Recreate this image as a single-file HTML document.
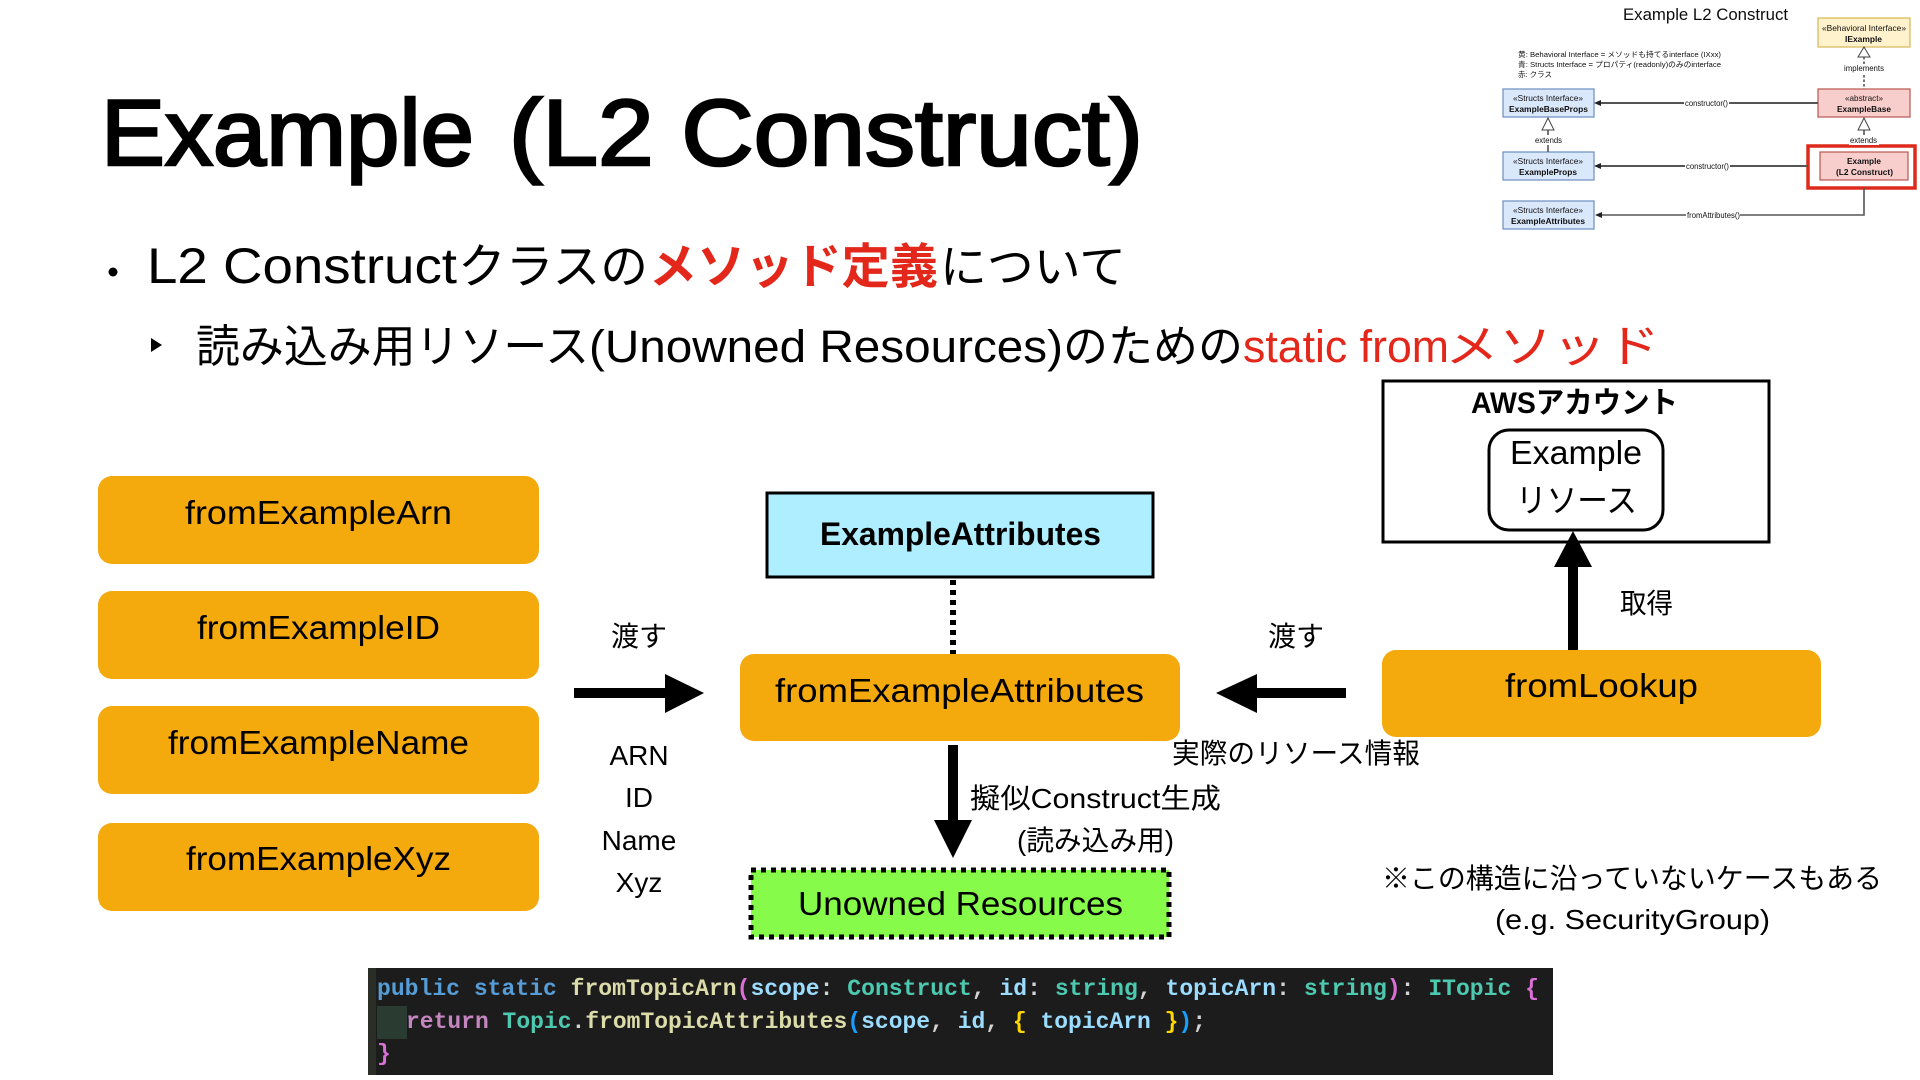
<!DOCTYPE html>
<html lang="ja">
<head>
<meta charset="utf-8">
<title>Example (L2 Construct)</title>
<style>
html,body{margin:0;padding:0;background:#fff;width:1920px;height:1080px;overflow:hidden}
svg{display:block}
text{font-family:"Liberation Sans","Noto Sans CJK JP",sans-serif;fill:#000}
.m{text-anchor:middle}
.code text{font-family:"Liberation Mono","DejaVu Sans Mono",monospace;font-size:23px;fill:#d4d4d4}
.mini text{font-size:8.5px;fill:#111}
.mini .t{font-weight:bold;font-size:8.5px}
</style>
</head>
<body>
<svg width="1920" height="1080" viewBox="0 0 1920 1080" xmlns="http://www.w3.org/2000/svg">
<defs><filter id="b" x="-5%" y="-5%" width="110%" height="110%"><feGaussianBlur stdDeviation="0.35"/></filter></defs>

<!-- Title and bullets -->
<text x="101" y="165" font-size="94" style="stroke:#000;stroke-width:2.6px" textLength="373" lengthAdjust="spacingAndGlyphs">Example</text>
<text x="509" y="165" font-size="94" style="stroke:#000;stroke-width:2.6px" textLength="634" lengthAdjust="spacingAndGlyphs">(L2 Construct)</text>
<circle cx="113" cy="272" r="4.5" fill="#000"/>
<text x="147" y="283" font-size="50" textLength="310" lengthAdjust="spacingAndGlyphs">L2 Construct</text>
<text x="458" y="283" font-size="48" textLength="190" lengthAdjust="spacingAndGlyphs">クラスの</text>
<text x="649" y="283" font-size="48" font-weight="bold" style="fill:#e3281b" textLength="289" lengthAdjust="spacingAndGlyphs">メソッド定義</text>
<text x="940" y="283" font-size="46" textLength="186" lengthAdjust="spacingAndGlyphs">について</text>
<polygon points="151,338 162,345 151,352" fill="#000"/>
<text x="196" y="362" font-size="45" textLength="393" lengthAdjust="spacingAndGlyphs">読み込み用リソース</text>
<text x="589" y="362" font-size="45" textLength="474" lengthAdjust="spacingAndGlyphs">(Unowned Resources)</text>
<text x="1063" y="362" font-size="45" textLength="180" lengthAdjust="spacingAndGlyphs">のための</text>
<text x="1243" y="362" font-size="45" style="fill:#e3281b" textLength="206" lengthAdjust="spacingAndGlyphs">static from</text>
<text x="1445" y="362" font-size="45" style="fill:#e3281b" textLength="215" lengthAdjust="spacingAndGlyphs">メソッド</text>

<!-- Left orange boxes -->
<g fill="#f4a90c">
<rect x="98" y="476" width="441" height="88" rx="14"/>
<rect x="98" y="591" width="441" height="88" rx="14"/>
<rect x="98" y="706" width="441" height="88" rx="14"/>
<rect x="98" y="823" width="441" height="88" rx="14"/>
<rect x="740" y="654" width="440" height="87" rx="14"/>
<rect x="1382" y="650" width="439" height="87" rx="14"/>
</g>
<g font-size="33">
<text x="185" y="524" textLength="267" lengthAdjust="spacingAndGlyphs">fromExampleArn</text>
<text x="197" y="639" textLength="243" lengthAdjust="spacingAndGlyphs">fromExampleID</text>
<text x="168" y="754" textLength="301" lengthAdjust="spacingAndGlyphs">fromExampleName</text>
<text x="186" y="870" textLength="265" lengthAdjust="spacingAndGlyphs">fromExampleXyz</text>
<text x="775" y="702" textLength="369" lengthAdjust="spacingAndGlyphs">fromExampleAttributes</text>
<text x="1505" y="697" textLength="193" lengthAdjust="spacingAndGlyphs">fromLookup</text>
</g>

<!-- Labels -->
<g font-size="28">
<text x="639" y="646" class="m">渡す</text>
<text x="639" y="765" class="m">ARN</text>
<text x="639" y="807" class="m">ID</text>
<text x="639" y="850" class="m">Name</text>
<text x="639" y="892" class="m">Xyz</text>
<text x="1296" y="646" class="m">渡す</text>
<text x="1172" y="763" textLength="248" lengthAdjust="spacingAndGlyphs">実際のリソース情報</text>
<text x="970" y="808" textLength="251" lengthAdjust="spacingAndGlyphs">擬似Construct生成</text>
<text x="1017" y="850" textLength="157" lengthAdjust="spacingAndGlyphs">(読み込み用)</text>
<text x="1620" y="613" textLength="53" lengthAdjust="spacingAndGlyphs">取得</text>
<text x="1382" y="888" textLength="500" lengthAdjust="spacingAndGlyphs">※この構造に沿っていないケースもある</text>
<text x="1495" y="929" textLength="275" lengthAdjust="spacingAndGlyphs">(e.g. SecurityGroup)</text>
</g>

<!-- Arrows -->
<rect x="574" y="688" width="100" height="10" fill="#000"/>
<polygon points="665,674 704,693 665,713" fill="#000"/>
<rect x="1250" y="688" width="96" height="10" fill="#000"/>
<polygon points="1257,674 1216,693 1257,713" fill="#000"/>
<rect x="948" y="745" width="10" height="80" fill="#000"/>
<polygon points="934,820 972,820 953,858" fill="#000"/>
<line x1="953" y1="580" x2="953" y2="654" stroke="#000" stroke-width="6" stroke-dasharray="5 5"/>

<!-- ExampleAttributes -->
<rect x="767" y="493" width="386" height="84" fill="#aeeeff" stroke="#000" stroke-width="3"/>
<text x="820" y="545" font-size="32" font-weight="bold" textLength="281" lengthAdjust="spacingAndGlyphs">ExampleAttributes</text>

<!-- Unowned -->
<rect x="751" y="870" width="418" height="67" fill="#86fb4a" stroke="#000" stroke-width="5" stroke-dasharray="5 5"/>
<text x="798" y="915" font-size="33" textLength="325" lengthAdjust="spacingAndGlyphs">Unowned Resources</text>

<!-- AWS Account -->
<rect x="1383" y="381" width="386" height="161" fill="#fff" stroke="#000" stroke-width="3"/>
<text x="1471" y="413" font-size="30" font-weight="bold" textLength="207" lengthAdjust="spacingAndGlyphs">AWSアカウント</text>
<rect x="1489" y="430" width="174" height="100" rx="20" fill="#fff" stroke="#000" stroke-width="3"/>
<text x="1510" y="464" font-size="33" textLength="132" lengthAdjust="spacingAndGlyphs">Example</text>
<text x="1516" y="512" font-size="33" textLength="121" lengthAdjust="spacingAndGlyphs">リソース</text>
<rect x="1568" y="560" width="10" height="90" fill="#000"/>
<polygon points="1573,531 1592,567 1554,567" fill="#000"/>

<!-- Code -->
<g class="code" filter="url(#b)">
<rect x="368" y="968" width="1185" height="107" fill="#1e1e1e"/>
<rect x="368" y="968" width="8" height="107" fill="#2a2f26"/>
<rect x="377" y="1006" width="30" height="33" fill="#2b3a30"/>
<text x="377" y="995" style="font-weight:bold" textLength="1162" lengthAdjust="spacingAndGlyphs"><tspan style="fill:#569cd6">public static </tspan><tspan style="fill:#dcdcaa">fromTopicArn</tspan><tspan style="fill:#da70d6">(</tspan><tspan style="fill:#9cdcfe">scope</tspan><tspan>: </tspan><tspan style="fill:#4ec9b0">Construct</tspan><tspan>, </tspan><tspan style="fill:#9cdcfe">id</tspan><tspan>: </tspan><tspan style="fill:#4ec9b0">string</tspan><tspan>, </tspan><tspan style="fill:#9cdcfe">topicArn</tspan><tspan>: </tspan><tspan style="fill:#4ec9b0">string</tspan><tspan style="fill:#da70d6">)</tspan><tspan>: </tspan><tspan style="fill:#4ec9b0">ITopic </tspan><tspan style="fill:#da70d6">{</tspan></text>
<text x="406" y="1028" style="font-weight:bold" textLength="800" lengthAdjust="spacingAndGlyphs"><tspan style="fill:#c586c0">return </tspan><tspan style="fill:#4ec9b0">Topic</tspan><tspan>.</tspan><tspan style="fill:#dcdcaa">fromTopicAttributes</tspan><tspan style="fill:#179fff">(</tspan><tspan style="fill:#9cdcfe">scope</tspan><tspan>, </tspan><tspan style="fill:#9cdcfe">id</tspan><tspan>, </tspan><tspan style="fill:#ffd700">{ </tspan><tspan style="fill:#9cdcfe">topicArn </tspan><tspan style="fill:#ffd700">}</tspan><tspan style="fill:#179fff">)</tspan><tspan>;</tspan></text>
<text x="377" y="1060" style="fill:#da70d6;font-weight:bold">}</text>
</g>

<!-- Mini diagram -->
<g class="mini" filter="url(#b)">
<text x="1623" y="20" style="font-size:16.5px;fill:#111" textLength="165" lengthAdjust="spacingAndGlyphs">Example L2 Construct</text>
<text x="1518" y="57" style="font-size:7.5px" textLength="203" lengthAdjust="spacingAndGlyphs">黄: Behavioral Interface = メソッドも持てるinterface (IXxx)</text>
<text x="1518" y="67" style="font-size:7.5px" textLength="203" lengthAdjust="spacingAndGlyphs">青: Structs Interface = プロパティ(readonly)のみのinterface</text>
<text x="1518" y="77" style="font-size:7.5px" textLength="34" lengthAdjust="spacingAndGlyphs">赤: クラス</text>

<g stroke="#6c8ebf" fill="#dae8fc" stroke-width="1.2">
<rect x="1503" y="89" width="91" height="28"/>
<rect x="1503" y="152" width="91" height="28"/>
<rect x="1503" y="201" width="91" height="28"/>
</g>
<rect x="1818" y="18" width="92" height="29" fill="#fff2cc" stroke="#d6b656" stroke-width="1.2"/>
<rect x="1818" y="89" width="92" height="28" fill="#f8cecc" stroke="#b85450" stroke-width="1.2"/>
<rect x="1820" y="152" width="88" height="28" fill="#f8cecc" stroke="#b85450" stroke-width="1.2"/>
<rect x="1808" y="146" width="107" height="42" fill="none" stroke="#de2a1c" stroke-width="3.5"/>

<g stroke="#555" fill="none">
<line x1="1600" y1="103" x2="1818" y2="103" stroke-width="2"/>
<line x1="1600" y1="166" x2="1808" y2="166" stroke-width="2"/>
<polyline points="1864,188 1864,215 1600,215" stroke-width="1.6"/>
<line x1="1864" y1="57" x2="1864" y2="89" stroke-dasharray="2.5 2" stroke-width="1.6"/>
<line x1="1864" y1="130" x2="1864" y2="146" stroke-width="1.6"/>
<line x1="1548" y1="130" x2="1548" y2="152" stroke-width="1.6"/>
</g>
<g fill="#222">
<polygon points="1594,103 1601,100 1601,106"/>
<polygon points="1594,166 1601,163 1601,169"/>
<polygon points="1595,215 1602,212 1602,218"/>
</g>
<g fill="#fff" stroke="#444">
<polygon points="1864,47 1870,57 1858,57"/>
<polygon points="1864,118 1870,130 1858,130"/>
<polygon points="1548,118 1554,130 1542,130"/>
</g>
<g fill="#fff">
<rect x="1684" y="98" width="45" height="10"/>
<rect x="1685" y="161" width="45" height="10"/>
<rect x="1686" y="210" width="54" height="10"/>
<rect x="1843" y="64" width="42" height="10"/>
<rect x="1849" y="135" width="30" height="10"/>
<rect x="1534" y="135" width="28" height="10"/>
</g>
<text x="1685" y="106" textLength="43" lengthAdjust="spacingAndGlyphs">constructor()</text>
<text x="1686" y="169" textLength="43" lengthAdjust="spacingAndGlyphs">constructor()</text>
<text x="1687" y="218" textLength="53" lengthAdjust="spacingAndGlyphs">fromAttributes()</text>
<text x="1844" y="71" textLength="40" lengthAdjust="spacingAndGlyphs">implements</text>
<text x="1850" y="143" textLength="27" lengthAdjust="spacingAndGlyphs">extends</text>
<text x="1535" y="143" textLength="27" lengthAdjust="spacingAndGlyphs">extends</text>

<text x="1513" y="101" textLength="70" lengthAdjust="spacingAndGlyphs">«Structs Interface»</text>
<text class="t" x="1509" y="112" textLength="79" lengthAdjust="spacingAndGlyphs">ExampleBaseProps</text>
<text x="1513" y="164" textLength="70" lengthAdjust="spacingAndGlyphs">«Structs Interface»</text>
<text class="t" x="1519" y="175" textLength="58" lengthAdjust="spacingAndGlyphs">ExampleProps</text>
<text x="1513" y="213" textLength="70" lengthAdjust="spacingAndGlyphs">«Structs Interface»</text>
<text class="t" x="1511" y="224" textLength="74" lengthAdjust="spacingAndGlyphs">ExampleAttributes</text>
<text x="1822" y="31" textLength="84" lengthAdjust="spacingAndGlyphs">«Behavioral Interface»</text>
<text class="t" x="1845" y="42" textLength="37" lengthAdjust="spacingAndGlyphs">IExample</text>
<text x="1845" y="101" textLength="38" lengthAdjust="spacingAndGlyphs">«abstract»</text>
<text class="t" x="1837" y="112" textLength="54" lengthAdjust="spacingAndGlyphs">ExampleBase</text>
<text class="t" x="1847" y="164" textLength="34" lengthAdjust="spacingAndGlyphs">Example</text>
<text class="t" x="1836" y="175" textLength="57" lengthAdjust="spacingAndGlyphs">(L2 Construct)</text>
</g>
</svg>
</body>
</html>
